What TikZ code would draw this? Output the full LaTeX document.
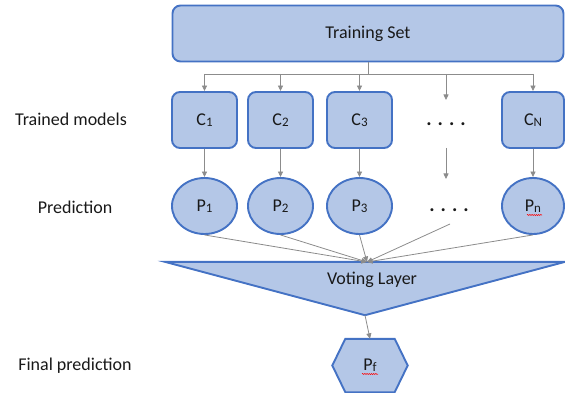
\documentclass[tikz,border=0pt]{standalone}
\usepackage{fontspec}
\setmainfont{Carlito}
\usetikzlibrary{arrows.meta,shapes.geometric,decorations.pathmorphing}
\definecolor{boxfill}{HTML}{B4C7E7}
\definecolor{boxline}{HTML}{4472C4}
\definecolor{conn}{HTML}{8C8C8C}
\newcommand{\sbx}[1]{\raisebox{-0.15ex}{\fontsize{13}{15}\selectfont #1}}
\tikzset{
  every node/.style={font=\fontsize{18}{21}\selectfont, text=black!90},
  blk/.style={draw=boxline, fill=boxfill, line width=1.9pt, rounded corners=8pt},
  ell/.style={draw=boxline, fill=boxfill, line width=1.9pt, ellipse, minimum width=65pt, minimum height=56pt, inner sep=0pt},
  shp/.style={draw=boxline, fill=boxfill, line width=1.9pt, line join=miter},
  conline/.style={draw=conn, line width=0.8pt},
  arr/.style={conline, -{Triangle[length=5.5pt,width=5pt]}},
  lbl/.style={font=\fontsize{18}{21}\selectfont},
  dts/.style={font=\fontsize{20}{22}\selectfont\bfseries},
  squig/.style={draw=red, line width=0.5pt, decorate, decoration={snake, amplitude=0.6pt, segment length=2.2pt}}
}
\begin{document}
\begin{tikzpicture}[x=1pt,y=-1pt]
\useasboundingbox (0,0) rectangle (565,393);

% Training set
\node[blk, minimum width=391pt, minimum height=56pt] (train) at (368,33.5) {Training Set};

% bus
\coordinate (bus) at (368,74);
\coordinate (b1) at (204.5,74);
\coordinate (b2) at (280.5,74);
\coordinate (b3) at (359.5,74);
\coordinate (b4) at (446,74);
\coordinate (b5) at (533,74);

% Classifiers
\node[blk, minimum width=65pt, minimum height=56pt] (c1) at (204.5,120) {C\sbx{1}};
\node[blk, minimum width=65pt, minimum height=56pt] (c2) at (280.5,120) {C\sbx{2}};
\node[blk, minimum width=65pt, minimum height=56pt] (c3) at (359.5,120) {C\sbx{3}};
\node[blk, minimum width=62pt, minimum height=56pt] (cn) at (533,120) {C\sbx{N}};
\node[dts] (cdots) at (446,124) {.\hspace{6pt}.\hspace{6pt}.\hspace{6pt}.};
\coordinate (cdt) at (446,100);
\coordinate (cdb) at (446,148);
\coordinate (pdt) at (446,179);

% Predictions
\node[ell] (p1) at (204.5,206) {P\sbx{1}};
\node[ell] (p2) at (280.5,206) {P\sbx{2}};
\node[ell] (p3) at (359.5,206) {P\sbx{3}};
\node[ell, minimum width=62pt] (pn) at (533,206) {P\sbx{n}};
\node[dts] (pdots) at (449,210) {.\hspace{6pt}.\hspace{6pt}.\hspace{6pt}.};
\coordinate (pdb) at (450,224);
\draw[squig] (527,215) -- (542,215);

% Voting layer
\node[minimum width=400pt, minimum height=53pt, inner sep=0pt] (vote) at (365,288.5) {};
\draw[shp] (vote.north west) -- (vote.north east) -- (vote.south) -- cycle;
\node (vtext) at (372,280) {Voting Layer};
\coordinate (vtop) at (367,262);

% Final prediction
\node[minimum width=75pt, minimum height=53pt, inner sep=0pt] (pf) at (370,365.5) {};
\draw[shp] (pf.west) -- ([xshift=13pt]pf.north west) -- ([xshift=-13pt]pf.north east) -- (pf.east) -- ([xshift=-13pt]pf.south east) -- ([xshift=13pt]pf.south west) -- cycle;
\node (pft) at (pf) {P\sbx{f}};
\draw[squig] (362,374) -- (378,374);

% connectors
\draw[conline] (train.south) -- (bus);
\draw[conline] (b1) -- (b5);
\draw[arr] (b1) -- (c1.north);
\draw[arr] (b2) -- (c2.north);
\draw[arr] (b3) -- (c3.north);
\draw[arr] (b4) -- (cdt);
\draw[arr] (b5) -- (cn.north);
\draw[arr] (c1.south) -- (p1.north);
\draw[arr] (c2.south) -- (p2.north);
\draw[arr] (c3.south) -- (p3.north);
\draw[arr] (cdb) -- (pdt);
\draw[arr] (cn.south) -- (pn.north);
\draw[arr] (p1.south) -- (vtop);
\draw[arr] (p2.south) -- (vtop);
\draw[arr] (p3.south) -- (vtop);
\draw[arr] (pdb) -- (vtop);
\draw[arr] (pn.south) -- (vtop);
\draw[arr] (vote.south) -- (pf.north);

% left labels
\node[lbl] (l1) at (71,119) {Trained models};
\node[lbl] (l2) at (75,207) {Prediction};
\node[lbl] (l3) at (75,366) {Final prediction};
\end{tikzpicture}
\end{document}
